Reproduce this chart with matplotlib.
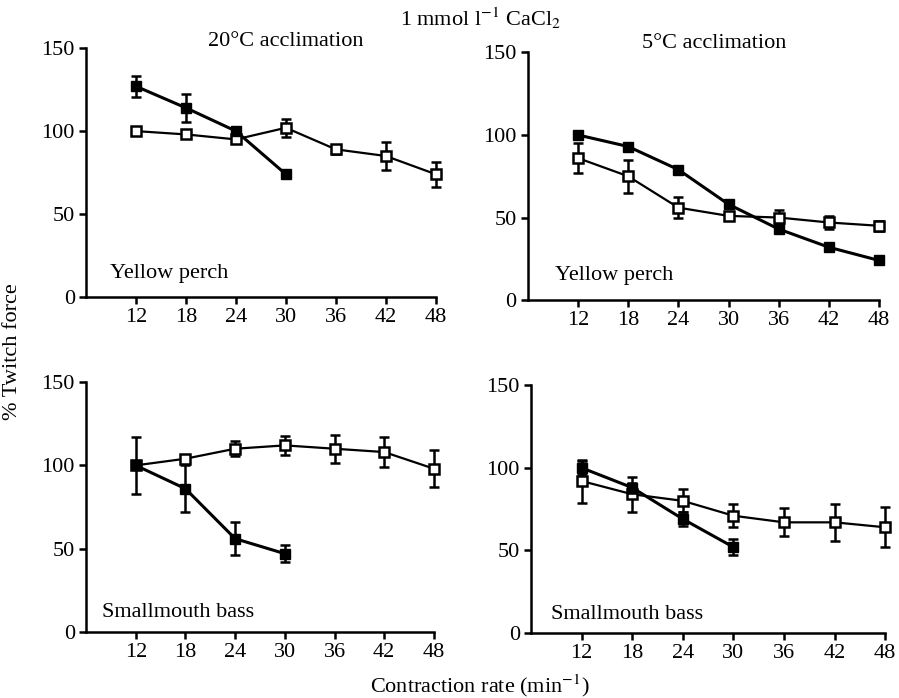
import numpy as np
import matplotlib
matplotlib.use("Agg")
import matplotlib.pyplot as plt

plt.rcParams['font.family'] = ['Liberation Serif', 'DejaVu Serif']
plt.rcParams['mathtext.fontset'] = 'stix'

# 收缩频率 (min^-1)
rate = [12, 18, 24, 30, 36, 42, 48]

# 黄鲈 20°C
yp20_fill = [127, 114, 100, 74]
yp20_fill_err = [6.5, 8.5, 2, 2]
yp20_open = [100, 98, 95, 102, 89, 85, 74]
yp20_open_err = [1.5, 1.5, 1.5, 5.5, 2.5, 8.5, 7.5]

# 黄鲈 5°C
yp5_fill = [100, 93, 79, 58, 43, 32, 24]
yp5_fill_err = [1.5, 1.5, 1.5, 2.5, 2.5, 2, 1.5]
yp5_open = [86, 75, 56, 51, 50, 47, 45]
yp5_open_err = [9, 10, 6.5, 2.5, 4.5, 4, 3]

# 小口黑鲈 20°C
sb20_fill = [100, 86, 56, 47]
sb20_fill_err = [17, 14, 10, 5]
sb20_open = [100, 104, 110, 112, 110, 108, 98]
sb20_open_err = [1.5, 2.5, 4.5, 5.5, 8.5, 9, 11]

# 小口黑鲈 5°C
sb5_fill = [100, 88, 69, 52]
sb5_fill_err = [4, 3, 4, 5]
sb5_open = [92, 84, 80, 71, 67, 67, 64]
sb5_open_err = [13, 10.5, 7, 7, 8.5, 11, 12]

panels = [
    ([0.0957, 0.5745, 0.389, 0.3565], yp20_fill, yp20_fill_err, yp20_open, yp20_open_err,
     "Yellow perch", (0.069, 0.096)),
    ([0.587, 0.570, 0.391, 0.355], yp5_fill, yp5_fill_err, yp5_open, yp5_open_err,
     "Yellow perch", (0.077, 0.10)),
    ([0.0957, 0.0946, 0.387, 0.358], sb20_fill, sb20_fill_err, sb20_open, sb20_open_err,
     "Smallmouth bass", (0.046, 0.076)),
    ([0.5907, 0.0931, 0.394, 0.355], sb5_fill, sb5_fill_err, sb5_open, sb5_open_err,
     "Smallmouth bass", (0.056, 0.073)),
]

fig = plt.figure(figsize=(8.99, 6.98), dpi=100)


def no_clip(cont):
    # 让端点处的标记不被裁剪
    for art in cont.get_children():
        art.set_clip_on(False)


for rect, fv, fe, ov, oe, name, pos in panels:
    ax = fig.add_axes(rect)
    c1 = ax.errorbar(rate[:len(ov)], ov, yerr=oe, color='black', lw=1.6, marker='s',
                     ms=6.5, mfc='white', mec='black', mew=1.8, capsize=3.5,
                     elinewidth=1.8, capthick=1.8, zorder=3)
    c2 = ax.errorbar(rate[:len(fv)], fv, yerr=fe, color='black', lw=2.2, marker='s',
                     ms=7.5, mfc='black', mec='black', capsize=3.5,
                     elinewidth=1.8, capthick=1.8, zorder=4)
    no_clip(c1)
    no_clip(c2)
    ax.set_xlim(6, 48)
    ax.set_ylim(0, 150)
    ax.set_xticks(rate)
    ax.set_yticks([0, 50, 100, 150])
    for s in ['top', 'right']:
        ax.spines[s].set_visible(False)
    for s in ['left', 'bottom']:
        ax.spines[s].set_linewidth(1.8)
    ax.tick_params(direction='out', length=5, width=1.8, labelsize=16, pad=3)
    ax.text(pos[0], pos[1], name, transform=ax.transAxes, fontsize=16,
            va='center', ha='left')

fig.text(0.535, 0.974, r"1 mmol l$^{-1}$ CaCl$_2$", fontsize=16, ha='center', va='center')
fig.text(0.318, 0.941, "20°C acclimation", fontsize=16, ha='center', va='center')
fig.text(0.794, 0.938, "5°C acclimation", fontsize=16, ha='center', va='center')
fig.text(0.014, 0.496, "% Twitch force", fontsize=16, rotation=90, ha='center', va='center')
fig.text(0.534, 0.018, r"Contraction rate (min$^{-1}$)", fontsize=16, ha='center', va='center')

fig.savefig("out.png", dpi=100)
